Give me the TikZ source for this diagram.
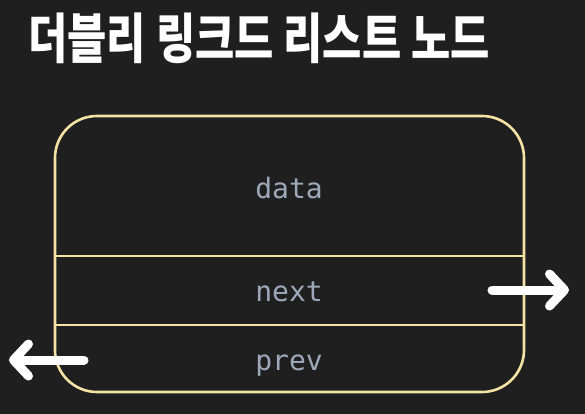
\documentclass[tikz,border=0pt]{standalone}
\usepackage{fontspec}
\setmonofont{DejaVu Sans Mono}
\newfontfamily\krfont{Noto Sans CJK KR}
\usepackage{tikz}
\usetikzlibrary{arrows.meta}

\definecolor{bgdark}{HTML}{1F1F1F}
\definecolor{boxline}{HTML}{F5E3A5}
\definecolor{fieldtxt}{HTML}{9DA9BB}

\begin{document}
\begin{tikzpicture}[x=1pt, y=-1pt,
	field/.style={anchor=base, text=fieldtxt, font=\ttfamily\fontsize{28}{28}\selectfont},
	divider/.style={draw=boxline, line width=2.6pt},
	link/.style={draw=white, line width=9pt, line cap=round, -{Straight Barb[length=15pt, width=32pt, round]}}]
	  		\fill[bgdark] (0,0) rectangle (585,414);
	  		\useasboundingbox (0,0) rectangle (585,414);

	  		\node[anchor=base, text=white, font=\krfont\bfseries\fontsize{54}{54}\selectfont] (TITLE) at (259,59) {\scalebox{0.79}[1]{더블리 링크드 리스트 노드}};

	  		\node[draw=boxline, line width=2.6pt, rounded corners=42pt, minimum width=469pt, minimum height=276pt, inner sep=0pt] (NODE) at (289.5,254) {};
	  		\coordinate (D1) at (0,256);
	  		\coordinate (D2) at (0,325);
	  		\path[divider] (NODE.west |- D1) -- (NODE.east |- D1)
	  				(NODE.west |- D2) -- (NODE.east |- D2);

	  		\node[field] (DATA) at (289,198) {data};
	  		\node[field] (NEXT) at (289,301) {next};
	  		\node[field] (PREV) at (289,370) {prev};

	  		\coordinate (NEXTIN)  at (492,290);
	  		\coordinate (NEXTOUT) at (569,290);
	  		\coordinate (PREVIN)  at (84,360);
	  		\coordinate (PREVOUT) at (9,360);
	  		\path[link] (NEXTIN) -- (NEXTOUT);
	  		\path[link] (PREVIN) -- (PREVOUT);
\end{tikzpicture}
\end{document}
